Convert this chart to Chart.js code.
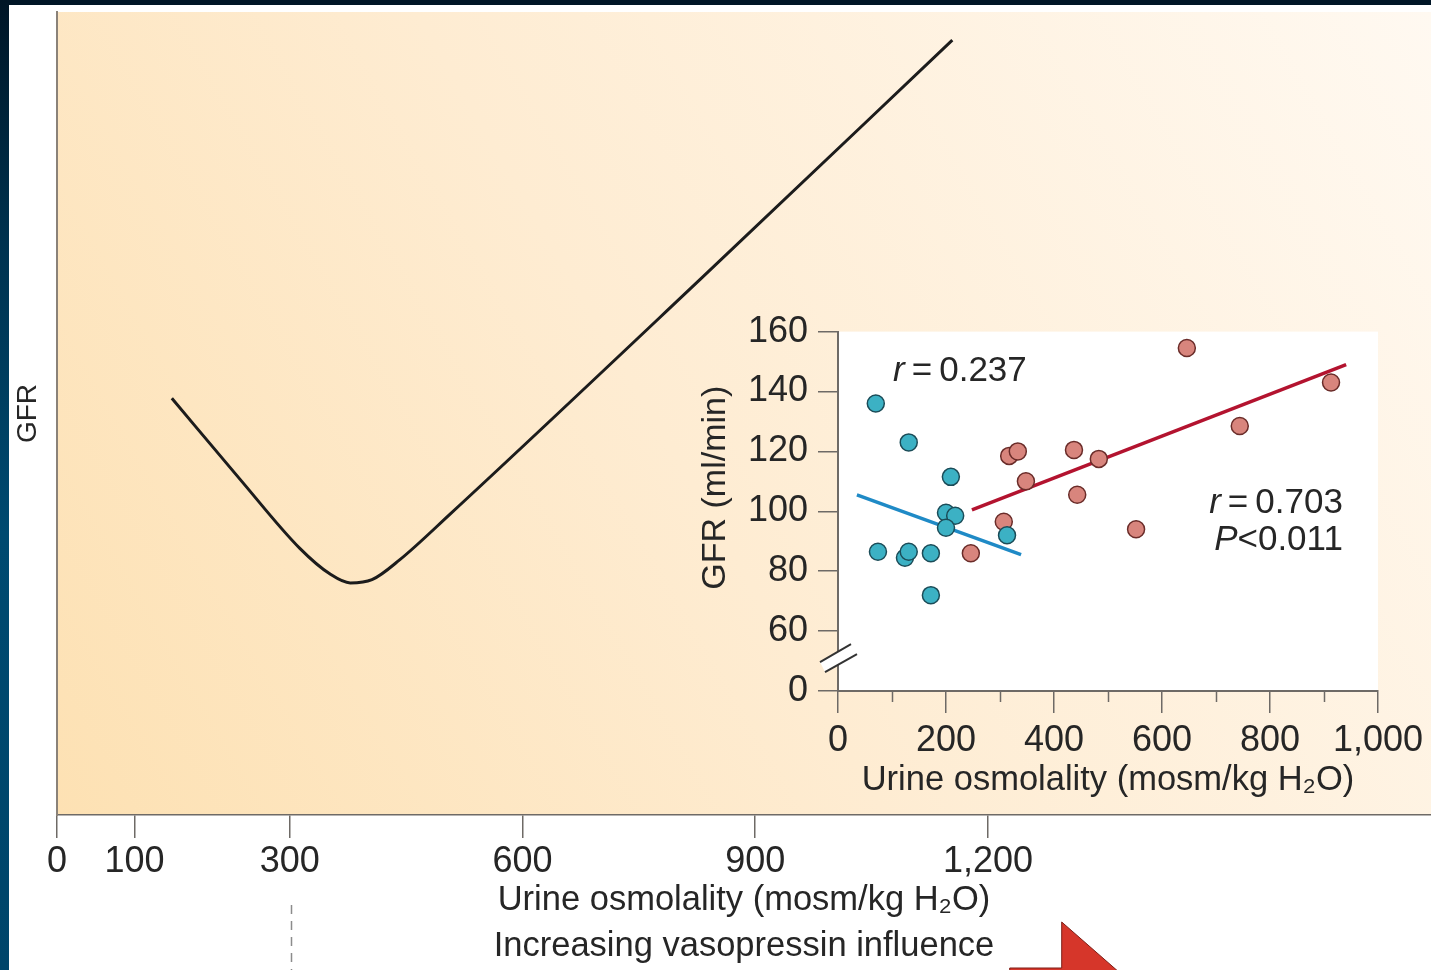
<!DOCTYPE html>
<html>
<head>
<meta charset="utf-8">
<title>GFR and urine osmolality</title>
<script src="https://cdn.jsdelivr.net/npm/chart.js"></script>
<style>
  html, body { margin: 0; padding: 0; background: #fff; overflow: hidden; }
  #wrap { position: relative; width: 1431px; height: 970px; }
  canvas { position: absolute; }
  #main { left: 0; top: 0; }
  #inset { left: 680px; top: 300px; }
  .band-top { position: absolute; left: 0; top: 0; width: 1431px; height: 5px; background: #001526; z-index: 5; }
  .band-left { position: absolute; left: 0; top: 0; width: 9px; height: 970px;
    background: linear-gradient(#001526, #00324f 25%, #004a70 55%, #00456a); z-index: 5; }
</style>
</head>
<body>
<div id="wrap">
  <canvas id="main" width="1431" height="970"></canvas>
  <canvas id="inset" width="751" height="510"></canvas>
  <div class="band-top"></div>
  <div class="band-left"></div>
</div>
<script>
// schematic curve (x = mosm/kg H2O, y = GFR in arbitrary units 0-100)
const curveX = [148, 236, 313, 352, 378, 406, 442, 507, 829, 1154];
const curveY = [51.9, 41.8, 33.2, 30.0, 28.9, 29.3, 31.8, 37.5, 66.7, 96.5];
const mainXTicks = [0, 100, 300, 600, 900, 1200];

// inset: measured patients
const blueX = [70, 131, 209, 200, 217, 200, 313, 74, 124, 131, 172, 172];
const blueY = [136, 123, 111.5, 99.5, 98.5, 94.5, 92, 86.5, 84.5, 86.5, 86, 72];
const redX = [646, 913, 744, 317, 333, 437, 483, 348, 443, 307, 552, 246];
const redY = [154.5, 143, 128.5, 118.5, 120, 120.5, 117.5, 110, 105.5, 96.5, 94, 86];
const blueFitX = [35, 339];
const blueFitY = [105.5, 85.5];
const redFitX = [248, 941];
const redFitY = [100.5, 149];

const insetXTicks = [0, 200, 400, 600, 800, 1000];
const insetMinorTicks = [100, 300, 500, 700, 900];
const insetYTicks = [40, 60, 80, 100, 120, 140, 160];
const insetYLabels = ['0', '60', '80', '100', '120', '140', '160'];

const toPoints = (xs, ys) => xs.map((v, i) => ({x: v, y: ys[i]}));

const FAMILY = '"Liberation Sans", Arial, sans-serif';
const TEXT = '#262626';
const AXIS = '#6e6a66';

Chart.defaults.font.family = FAMILY;
Chart.defaults.color = TEXT;

const dashAt = 300;
const arrowAt = 1295;

const mainDecor = {
  id: 'mainDecor',
  beforeDraw(chart) {
    const {ctx, chartArea: a} = chart;
    const g = ctx.createLinearGradient(a.left, a.bottom, a.right, a.top);
    g.addColorStop(0, '#fde1b3');
    g.addColorStop(0.45, '#feecd2');
    g.addColorStop(1, '#fff9f1');
    ctx.save();
    ctx.fillStyle = g;
    ctx.fillRect(a.left, a.top, a.right - a.left, a.bottom - a.top);
    ctx.restore();
  },
  afterDraw(chart) {
    const {ctx, chartArea: a, scales: {x}} = chart;
    ctx.save();
    // dashed marker below 300 mosm
    const dx = Math.round(x.getPixelForValue(dashAt)) + 1.5;
    ctx.strokeStyle = '#8c8c8c';
    ctx.lineWidth = 1.5;
    ctx.setLineDash([9, 7]);
    ctx.beginPath();
    ctx.moveTo(dx, a.bottom + 90);
    ctx.lineTo(dx, chart.height);
    ctx.stroke();
    // red arrow head, running off the bottom edge
    const ax = x.getPixelForValue(arrowAt), ay = a.bottom + 107;
    ctx.setLineDash([]);
    ctx.fillStyle = '#d6362a';
    ctx.strokeStyle = '#7c1f17';
    ctx.lineWidth = 1;
    ctx.beginPath();
    ctx.moveTo(ax, ay);
    ctx.lineTo(ax + 64, ay + 56);
    ctx.lineTo(ax - 52, ay + 56);
    ctx.lineTo(ax - 52, ay + 46);
    ctx.lineTo(ax, ay + 46);
    ctx.closePath();
    ctx.fill();
    ctx.stroke();
    ctx.restore();
  }
};

new Chart(document.getElementById('main'), {
  type: 'scatter',
  data: {
    datasets: [{
      data: toPoints(curveX, curveY),
      showLine: true,
      borderColor: '#1c1c1c',
      borderWidth: 3,
      pointRadius: 0,
      cubicInterpolationMode: 'monotone'
    }]
  },
  options: {
    responsive: false,
    animation: false,
    devicePixelRatio: 1,
    layout: {padding: {top: 12, left: 0, right: 0, bottom: 0}},
    plugins: {legend: {display: false}, tooltip: {enabled: false}},
    scales: {
      x: {
        type: 'linear', min: 0, max: 1771,
        afterBuildTicks: s => { s.ticks = mainXTicks.map(v => ({value: v})); },
        afterFit: s => { s.height = 155; },
        ticks: {
          callback: v => v.toLocaleString('en-US'),
          font: {size: 36, lineHeight: 1.2}, color: TEXT, padding: 2,
          maxRotation: 0, autoSkip: false
        },
        grid: {drawOnChartArea: false, tickLength: 23, color: AXIS, lineWidth: 1.5},
        border: {color: AXIS, width: 1.5},
        title: {
          display: true,
          text: ['Urine osmolality (mosm/kg H\u2082O)', 'Increasing vasopressin influence'],
          font: {size: 34.5, lineHeight: 1.35}, color: TEXT,
          padding: {top: 0, bottom: 0}
        }
      },
      y: {
        type: 'linear', min: 0, max: 100,
        afterFit: s => { s.width = 57; },
        ticks: {display: false},
        grid: {display: false},
        border: {color: '#8a8279', width: 2},
        title: {
          display: true, text: 'GFR',
          font: {size: 28, lineHeight: 1.2}, color: TEXT,
          padding: {top: 11, bottom: 0}
        }
      }
    }
  },
  plugins: [mainDecor]
});

// inset annotations
const breakAt = 51;
const notes = [
  {x: 102, y: 146.8, align: 'left', parts: [['r', true], ['\u2009=\u20090.237', false]]},
  {x: 935, y: 102.6, align: 'right', parts: [['r', true], ['\u2009=\u20090.703', false]]},
  {x: 935, y: 90.2, align: 'right', parts: [['P', true], ['<0.011', false]]}
];

function drawRich(ctx, parts, x, y, align) {
  const fontOf = it => (it ? 'italic ' : '') + '35px ' + FAMILY;
  const widths = parts.map(([t, it]) => { ctx.font = fontOf(it); return ctx.measureText(t).width; });
  const total = widths.reduce((s, w) => s + w, 0);
  let cx = align === 'right' ? x - total : x;
  parts.forEach(([t, it], i) => {
    ctx.font = fontOf(it);
    ctx.fillText(t, cx, y);
    cx += widths[i];
  });
}

const insetDecor = {
  id: 'insetDecor',
  beforeDraw(chart) {
    const {ctx, chartArea: a} = chart;
    ctx.save();
    ctx.fillStyle = '#ffffff';
    ctx.fillRect(a.left, a.top, a.right - a.left, a.bottom - a.top);
    ctx.restore();
  },
  afterDraw(chart) {
    const {ctx, chartArea: a, scales: {x, y}} = chart;
    ctx.save();
    // short minor ticks on the x axis
    ctx.strokeStyle = AXIS;
    ctx.lineWidth = 1.5;
    insetMinorTicks.forEach(v => {
      const px = Math.round(x.getPixelForValue(v)) + 0.5;
      ctx.beginPath();
      ctx.moveTo(px, a.bottom);
      ctx.lineTo(px, a.bottom + 11);
      ctx.stroke();
    });
    // axis break marks
    const by = y.getPixelForValue(breakAt), bx = a.left;
    ctx.fillStyle = '#ffffff';
    ctx.beginPath();
    ctx.moveTo(bx - 18, by + 4);
    ctx.lineTo(bx + 13, by - 14);
    ctx.lineTo(bx + 19, by - 4);
    ctx.lineTo(bx - 13, by + 14);
    ctx.closePath();
    ctx.fill();
    ctx.strokeStyle = '#333';
    ctx.lineWidth = 2;
    ctx.beginPath();
    ctx.moveTo(bx - 18, by + 4); ctx.lineTo(bx + 13, by - 14);
    ctx.moveTo(bx - 13, by + 14); ctx.lineTo(bx + 19, by - 4);
    ctx.stroke();
    // r / P labels
    ctx.fillStyle = TEXT;
    ctx.textBaseline = 'middle';
    ctx.textAlign = 'left';
    notes.forEach(n => drawRich(ctx, n.parts, x.getPixelForValue(n.x), y.getPixelForValue(n.y), n.align));
    ctx.restore();
  }
};

const dot = (fill, edge) => ({
  showLine: false, pointRadius: 8.5, pointBorderWidth: 1.5,
  pointBackgroundColor: fill, pointBorderColor: edge
});

new Chart(document.getElementById('inset'), {
  type: 'scatter',
  data: {
    datasets: [
      Object.assign({data: toPoints(blueX, blueY)}, dot('#3cb1c4', '#1b4c58')),
      Object.assign({data: toPoints(redX, redY)}, dot('#d8857d', '#6a2c29')),
      {data: toPoints(blueFitX, blueFitY), showLine: true, pointRadius: 0, borderColor: '#1f8ac6', borderWidth: 3.5},
      {data: toPoints(redFitX, redFitY), showLine: true, pointRadius: 0, borderColor: '#b3132f', borderWidth: 3.5}
    ]
  },
  options: {
    responsive: false,
    animation: false,
    devicePixelRatio: 1,
    layout: {padding: {top: 27, left: 0, right: 53, bottom: 0}},
    plugins: {legend: {display: false}, tooltip: {enabled: false}},
    scales: {
      x: {
        type: 'linear', min: 0, max: 1000,
        afterBuildTicks: s => { s.ticks = insetXTicks.map(v => ({value: v})); },
        afterFit: s => { s.height = 119; },
        ticks: {
          callback: v => v.toLocaleString('en-US'),
          font: {size: 36, lineHeight: 1.2}, color: TEXT, padding: 6,
          maxRotation: 0, autoSkip: false
        },
        grid: {drawOnChartArea: false, tickLength: 22, color: AXIS, lineWidth: 1.5},
        border: {color: AXIS, width: 2},
        title: {
          display: true, text: 'Urine osmolality (mosm/kg H\u2082O)',
          font: {size: 34.5, lineHeight: 1.2}, color: TEXT,
          padding: {top: 0, bottom: 9}
        }
      },
      y: {
        type: 'linear', min: 40, max: 160,
        afterBuildTicks: s => { s.ticks = insetYTicks.map(v => ({value: v})); },
        afterFit: s => { s.width = 158; },
        ticks: {
          callback: v => insetYLabels[insetYTicks.indexOf(v)],
          font: {size: 36, lineHeight: 1.2}, color: TEXT, padding: 10
        },
        grid: {drawOnChartArea: false, tickLength: 20, color: AXIS, lineWidth: 1.5},
        border: {color: AXIS, width: 2},
        title: {
          display: true, text: '     GFR (ml/min)',
          font: {size: 34, lineHeight: 1.2}, color: TEXT,
          padding: {top: 15, bottom: 0}
        }
      }
    }
  },
  plugins: [insetDecor]
});
</script>
</body>
</html>
